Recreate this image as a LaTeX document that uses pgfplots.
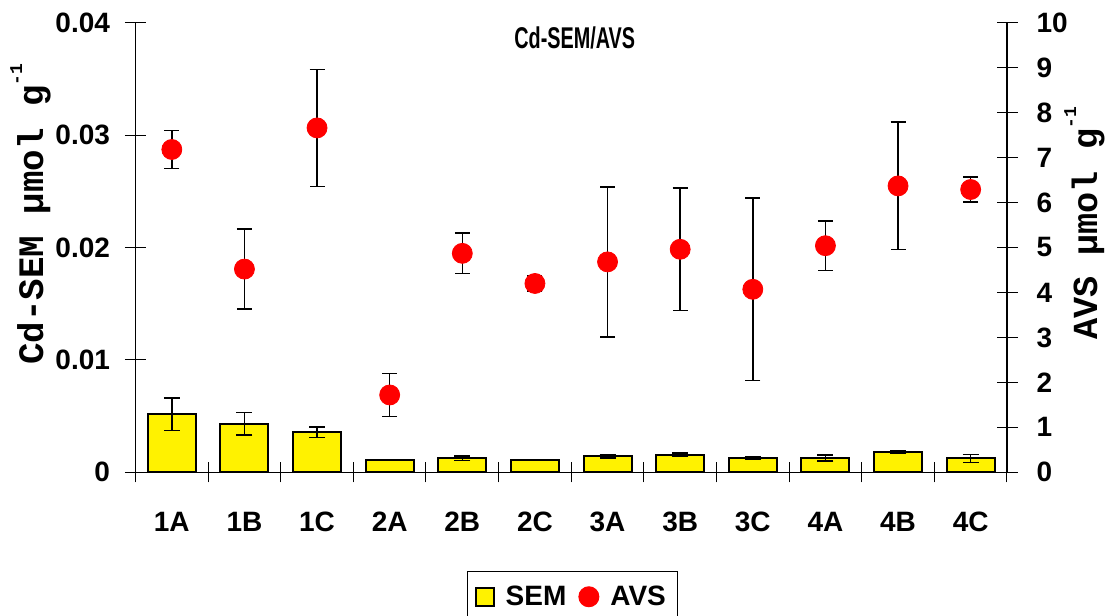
\documentclass[border=0pt]{standalone}
\usepackage{fontspec}
\setmainfont{Liberation Sans}
\newfontfamily\courier{Liberation Mono}
\usepackage{graphicx}
\usepackage{pgfplots}
\pgfplotsset{compat=1.18}
\begin{document}
\begin{tikzpicture}
\begin{axis}[
  at={(0,0)}, anchor=south west,
  scale only axis, width=435.75pt, height=224.8pt,
  xmin=-0.5, xmax=11.5, ymin=0, ymax=0.04,
  scaled y ticks=false,
  axis x line*=bottom, axis y line*=left,
  axis line style={-, line width=0.6pt, black},
  xtick={0,...,11},
  xticklabels={1A,1B,1C,2A,2B,2C,3A,3B,3C,4A,4B,4C},
  major x tick style={draw=none},
  minor xtick={-0.5,0.5,...,11.5},
  ytick={0,0.01,0.02,0.03,0.04},
  yticklabels={0,0.01,0.02,0.03,0.04},
  tick align=center, major tick length=10.5pt, minor tick length=10pt,
  tick style={black, line width=0.5pt},
  tick label style={font=\fontsize{14}{16}\selectfont\bfseries},
  xticklabel style={yshift=-11pt},
  yticklabel style={xshift=-4pt},
  ylabel={\courier\bfseries\fontsize{17.9}{19}\selectfont Cd-SEM µmol g\raisebox{10.5pt}{\fontsize{9}{9}\selectfont -1}},
  ylabel style={at={(axis description cs:-0.1061,0.574)}, anchor=base},
]
\addplot[ybar, bar width=24pt, fill=yellow, draw=black, line width=1pt,
  error bars/.cd, y dir=both, y explicit,
  error bar style={line width=0.75pt, black},
  error mark options={rotate=90, mark size=4pt, line width=0.75pt, black}]
coordinates {
 (0,0.00516) +- (0,0.00144)
 (1,0.00430) +- (0,0.00100)
 (2,0.00356) +- (0,0.00046)
 (3,0.00107) +- (0,0.00002)
 (4,0.00125) +- (0,0.00018)
 (5,0.00107) +- (0,0.00003)
 (6,0.00142) +- (0,0.00013)
 (7,0.00157) +- (0,0.00015)
 (8,0.00127) +- (0,0.00010)
 (9,0.00127) +- (0,0.00028)
 (10,0.00180) +- (0,0.00012)
 (11,0.00123) +- (0,0.00037)
};
\node[anchor=center] at (rel axis cs:0.504,0.966) {\scalebox{0.66}[1]{\fontsize{15}{17}\selectfont\bfseries Cd-SEM/AVS}};
\end{axis}
\begin{axis}[
  at={(0,0)}, anchor=south west,
  scale only axis, width=435.75pt, height=224.8pt,
  xmin=-0.5, xmax=11.5, ymin=0, ymax=10,
  axis x line=none, axis y line*=right,
  axis line style={-, line width=0.6pt, black},
  ytick={0,1,2,3,4,5,6,7,8,9,10},
  yticklabels={0,1,2,3,4,5,6,7,8,9,10},
  tick align=center, major tick length=10.5pt,
  tick style={black, line width=0.5pt},
  tick label style={font=\fontsize{14}{16}\selectfont\bfseries},
  yticklabel style={xshift=6pt},
  ylabel={\courier\bfseries\fontsize{17.6}{19}\selectfont AVS µmol g\raisebox{10.5pt}{\fontsize{9}{9}\selectfont -1}},
  ylabel style={at={(axis description cs:1.1033,0.5534)}, anchor=base},
  legend columns=2,
  legend style={at={(0.5014,-0.2195)}, anchor=north, draw=black, line width=0.5pt,
    inner ysep=5pt, inner xsep=4pt,
    font=\fontsize{14}{16}\selectfont\bfseries,
    /tikz/every odd column/.append style={column sep=3.5pt},
    /tikz/every even column/.append style={column sep=4pt}},
]
\addlegendimage{legend image code/.code={\draw[fill=yellow,draw=black,line width=0.8pt] (0pt,-4.5pt) rectangle (9pt,4.5pt);}}
\addlegendentry{SEM}
\addplot[only marks, mark=*, mark size=5pt, mark options={fill=red, draw=red},
  legend image code/.code={\fill[red] (5pt,0pt) circle (5pt);},
  error bars/.cd, y dir=both, y explicit,
  error bar style={line width=0.75pt, black},
  error mark options={rotate=90, mark size=3.75pt, line width=0.75pt, black}]
coordinates {
 (0,7.18) +- (0,0.42)
 (1,4.52) +- (0,0.89)
 (2,7.66) +- (0,1.30)
 (3,1.72) +- (0,0.48)
 (4,4.87) +- (0,0.45)
 (5,4.20) +- (0,0.17)
 (6,4.68) +- (0,1.67)
 (7,4.96) +- (0,1.36)
 (8,4.07) +- (0,2.03)
 (9,5.04) +- (0,0.55)
 (10,6.37) +- (0,1.42)
 (11,6.29) +- (0,0.28)
};
\addlegendentry{AVS}
\end{axis}
\pgfresetboundingbox
\path[use as bounding box] (-67.75pt,-71.85pt) rectangle (484.75pt,236.15pt);
\end{tikzpicture}
\end{document}
